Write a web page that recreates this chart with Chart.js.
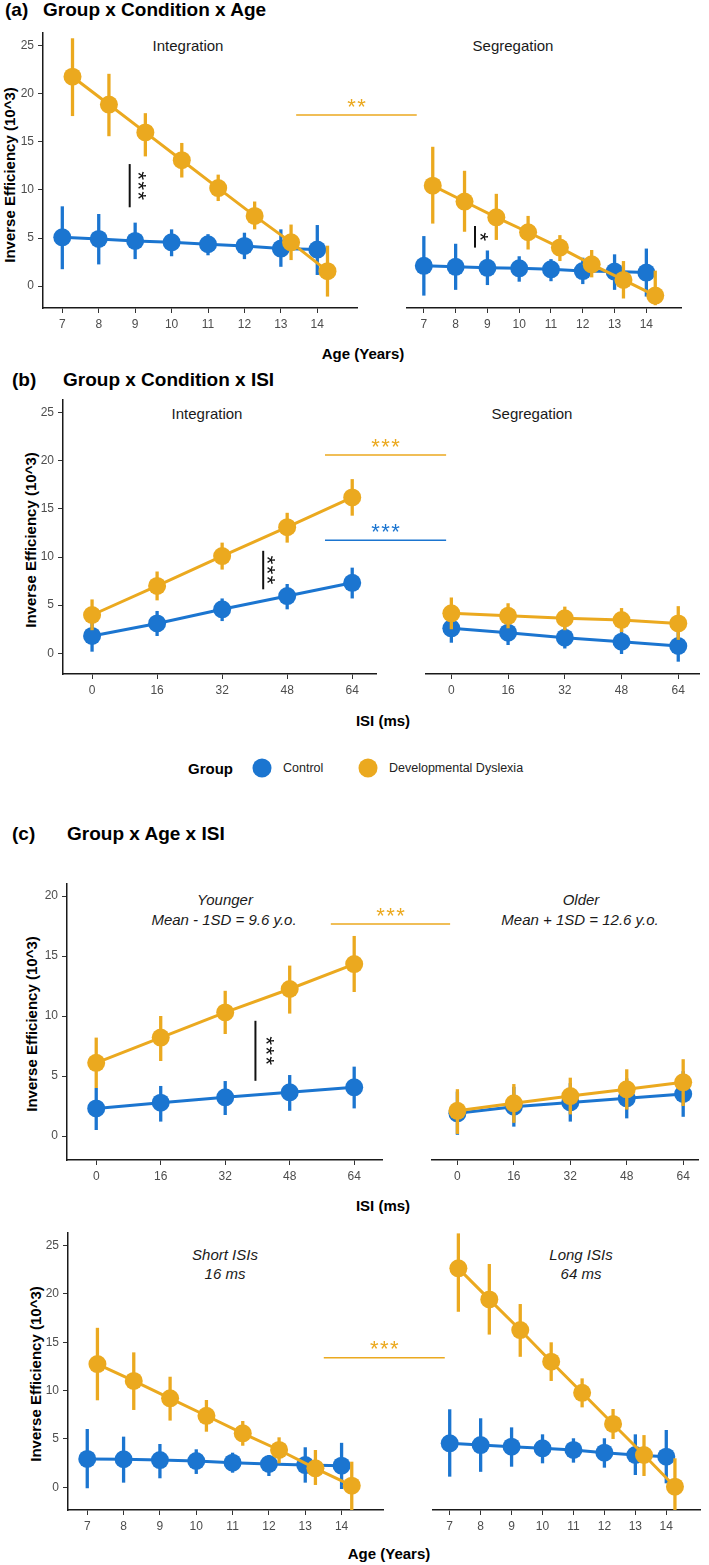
<!DOCTYPE html>
<html lang="en">
<head>
<meta charset="UTF-8">
<title>Inverse Efficiency by Group, Condition, Age and ISI</title>
<script src="https://cdn.jsdelivr.net/npm/chart.js"></script>
<style>
  body { margin: 0; background: #fff; font-family: "Liberation Sans", Arial, sans-serif; }
  #page { position: relative; width: 709px; height: 1565px; overflow: hidden; background: #fff; }
  #page canvas { position: absolute; left: 0; top: 0; }
  .txt { position: absolute; white-space: nowrap; transform: translate(-50%, -50%); color: #000; }
  .head { position: absolute; white-space: nowrap; font-weight: bold; font-size: 19px; transform: translateY(-50%); }
  .axt { font-weight: bold; font-size: 15px; }
  .yt { transform: translate(-50%, -50%) rotate(-90deg); }
  .strip { font-size: 15px; color: #1a1a1a; }
  .it { font-style: italic; }
  .key { position: absolute; width: 19px; height: 19px; border-radius: 50%; transform: translate(-50%, -50%); }
  .lab { position: absolute; white-space: nowrap; font-size: 12.5px; color: #222; transform: translateY(-50%); }
</style>
</head>
<body>
<div id="page">
  <div class="head" style="left:5px;top:10px">(a)</div>
  <div class="head" style="left:43px;top:10px">Group x Condition x Age</div>
  <div class="head" style="left:12px;top:380px">(b)</div>
  <div class="head" style="left:63px;top:380px">Group x Condition x ISI</div>
  <div class="head" style="left:12px;top:834px">(c)</div>
  <div class="head" style="left:67px;top:834px">Group x Age x ISI</div>

  <div class="txt strip" style="left:188px;top:45px">Integration</div>
  <div class="txt strip" style="left:513px;top:45px">Segregation</div>
  <div class="txt strip" style="left:207px;top:413px">Integration</div>
  <div class="txt strip" style="left:532px;top:413px">Segregation</div>
  <div class="txt strip it" style="left:225px;top:899px">Younger</div>
  <div class="txt strip it" style="left:224px;top:919px">Mean - 1SD = 9.6 y.o.</div>
  <div class="txt strip it" style="left:581px;top:899px">Older</div>
  <div class="txt strip it" style="left:580px;top:919px">Mean + 1SD = 12.6 y.o.</div>
  <div class="txt strip it" style="left:225px;top:1254px">Short ISIs</div>
  <div class="txt strip it" style="left:225px;top:1273px">16 ms</div>
  <div class="txt strip it" style="left:581px;top:1254px">Long ISIs</div>
  <div class="txt strip it" style="left:581px;top:1273px">64 ms</div>

  <div class="txt axt yt" style="left:9px;top:175px">Inverse Efficiency (10^3)</div>
  <div class="txt axt yt" style="left:30px;top:540px">Inverse Efficiency (10^3)</div>
  <div class="txt axt yt" style="left:31px;top:1024px">Inverse Efficiency (10^3)</div>
  <div class="txt axt yt" style="left:35px;top:1374px">Inverse Efficiency (10^3)</div>
  <div class="txt axt" style="left:363px;top:353px">Age (Years)</div>
  <div class="txt axt" style="left:383px;top:720px">ISI (ms)</div>
  <div class="txt axt" style="left:383px;top:1205px">ISI (ms)</div>
  <div class="txt axt" style="left:389px;top:1553px">Age (Years)</div>

  <div class="lab" style="left:188px;top:768px;font-weight:bold;font-size:15px;color:#000">Group</div>
  <div class="key" style="left:262px;top:768px;background:#1b75d0"></div>
  <div class="lab" style="left:283px;top:768px">Control</div>
  <div class="key" style="left:368px;top:768px;background:#eba91f"></div>
  <div class="lab" style="left:389px;top:768px">Developmental Dyslexia</div>
</div>

<script>
// x categories and ticks
const ages = [7, 8, 9, 10, 11, 12, 13, 14];
const isiMs = [0, 16, 32, 48, 64];
const effTicks = [0, 5, 10, 15, 20, 25];
const effTicksC = [0, 5, 10, 15, 20];

// (a) Group x Condition x Age
const aIntCtrl   = [5.07, 4.9, 4.7, 4.55, 4.35, 4.17, 3.9, 3.8];
const aIntCtrlLo = [1.75, 2.25, 2.8, 3.1, 3.2, 2.8, 2.0, 1.15];
const aIntCtrlHi = [8.3, 7.5, 6.6, 5.9, 5.4, 5.55, 5.9, 6.35];
const aIntDD     = [21.8, 18.9, 16.0, 13.1, 10.2, 7.3, 4.55, 1.55];
const aIntDDLo   = [17.7, 15.6, 13.5, 11.3, 8.85, 5.9, 2.7, -1.1];
const aIntDDHi   = [25.8, 22.1, 18.0, 14.9, 11.6, 8.8, 6.4, 4.2];
const aSegCtrl   = [2.1, 2.0, 1.9, 1.84, 1.74, 1.56, 1.5, 1.4];
const aSegCtrlLo = [-1.0, -0.4, 0.1, 0.45, 0.5, 0.2, -0.4, -1.1];
const aSegCtrlHi = [5.2, 4.4, 3.7, 3.1, 2.8, 2.95, 3.3, 3.9];
const aSegDD     = [10.45, 8.8, 7.15, 5.6, 4.0, 2.26, 0.63, -1.0];
const aSegDDLo   = [6.5, 5.65, 4.8, 3.8, 2.6, 0.9, -1.3, -2.0];
const aSegDDHi   = [14.5, 12.0, 9.6, 7.3, 5.3, 3.75, 2.6, 1.6];

// (b) Group x Condition x ISI
const bIntCtrl   = [1.8, 3.1, 4.57, 5.95, 7.33];
const bIntCtrlLo = [0.17, 1.8, 3.35, 4.57, 5.7];
const bIntCtrlHi = [3.3, 4.4, 5.7, 7.2, 8.9];
const bIntDD     = [3.98, 7.0, 10.1, 13.1, 16.2];
const bIntDDLo   = [2.4, 5.5, 8.7, 11.5, 14.3];
const bIntDDHi   = [5.6, 8.5, 11.5, 14.6, 18.1];
const bSegCtrl   = [2.6, 2.14, 1.62, 1.2, 0.76];
const bSegCtrlLo = [1.1, 0.86, 0.5, -0.07, -0.87];
const bSegCtrlHi = [4.1, 3.4, 2.7, 2.5, 2.4];
const bSegDD     = [4.15, 3.9, 3.63, 3.46, 3.1];
const bSegDDLo   = [2.5, 2.6, 2.4, 2.2, 1.4];
const bSegDDHi   = [5.8, 5.2, 4.85, 4.7, 4.9];

// (c) Group x Age x ISI, ISI slopes at younger / older age
const cYoungCtrl   = [2.3, 2.78, 3.22, 3.64, 4.06];
const cYoungCtrlLo = [0.5, 1.2, 1.75, 2.1, 2.3];
const cYoungCtrlHi = [4.0, 4.17, 4.58, 5.08, 5.78];
const cYoungDD     = [6.1, 8.2, 10.3, 12.25, 14.33];
const cYoungDDLo   = [4.0, 6.25, 8.5, 10.2, 12.0];
const cYoungDDHi   = [8.2, 10.0, 12.1, 14.2, 16.67];
const cOldCtrl     = [1.89, 2.44, 2.8, 3.14, 3.5];
const cOldCtrlLo   = [0.1, 0.78, 1.2, 1.47, 1.6];
const cOldCtrlHi   = [3.7, 4.1, 4.4, 4.8, 5.4];
const cOldDD       = [2.1, 2.72, 3.33, 3.89, 4.47];
const cOldDDLo     = [0.17, 1.1, 1.8, 2.2, 2.5];
const cOldDDHi     = [3.9, 4.33, 4.86, 5.56, 6.4];

// (c) age slopes at short / long ISIs
const cShortCtrl   = [2.93, 2.9, 2.82, 2.72, 2.55, 2.41, 2.3, 2.24];
const cShortCtrlLo = [-0.1, 0.48, 0.93, 1.38, 1.51, 1.17, 0.48, -0.18];
const cShortCtrlHi = [6.03, 5.24, 4.48, 3.93, 3.58, 3.34, 4.14, 4.6];
const cShortDD     = [12.75, 11.0, 9.2, 7.4, 5.58, 3.86, 1.96, 0.17];
const cShortDDLo   = [9.0, 8.0, 6.9, 5.75, 4.3, 2.48, 0.24, -2.66];
const cShortDDHi   = [16.5, 13.96, 11.44, 9.03, 6.86, 5.17, 3.86, 2.65];
const cLongCtrl    = [4.55, 4.37, 4.2, 4.03, 3.86, 3.58, 3.34, 3.17];
const cLongCtrlLo  = [1.1, 1.6, 2.13, 2.48, 2.55, 2.03, 1.27, 0.41];
const cLongCtrlHi  = [8.07, 7.14, 6.2, 5.48, 5.07, 5.07, 5.48, 5.93];
const cLongDD      = [22.65, 19.44, 16.27, 12.99, 9.78, 6.55, 3.34, 0.06];
const cLongDDLo    = [18.16, 15.8, 13.5, 11.0, 8.27, 5.0, 1.17, -2.9];
const cLongDDHi    = [26.27, 23.1, 18.96, 15.0, 11.27, 8.1, 5.4, 3.0];

const BLUE = '#1b75d0';
const GOLD = '#eba91f';
const INK = '#111';
const DODGE = 0.28;   // DD points sit a bit right of the age tick
const W = 709, H = 1565;
const YW = 40, XH = 30;
const FONT = '"Liberation Sans", Arial, sans-serif';

Chart.defaults.font.family = FONT;

function series(xs, mid, lo, hi, color, shift, order) {
  return {
    data: xs.map((x, i) => ({ x: x + shift, y: mid[i] })),
    errLo: lo,
    errHi: hi,
    borderColor: color,
    backgroundColor: color,
    pointBackgroundColor: color,
    pointBorderWidth: 0,
    pointRadius: 9,
    pointHoverRadius: 9,
    borderWidth: 3,
    showLine: true,
    order: order
  };
}

// vertical error bars, drawn just under their own dataset
const errorBars = {
  id: 'errorBars',
  beforeDatasetDraw(chart, args) {
    const ds = chart.data.datasets[args.index];
    if (!ds.errLo) return;
    const { ctx, chartArea: a, scales: { x, y } } = chart;
    ctx.save();
    ctx.beginPath();
    ctx.rect(a.left, a.top, a.right - a.left, a.bottom - a.top);
    ctx.clip();
    ctx.strokeStyle = ds.borderColor;
    ctx.lineWidth = 3.3;
    ds.data.forEach((p, i) => {
      const px = x.getPixelForValue(p.x);
      ctx.beginPath();
      ctx.moveTo(px, y.getPixelForValue(ds.errLo[i]));
      ctx.lineTo(px, y.getPixelForValue(ds.errHi[i]));
      ctx.stroke();
    });
    ctx.restore();
  }
};

function stars(ctx, label, color) {
  const fs = 22;
  ctx.fillStyle = color;
  ctx.font = fs + 'px ' + FONT;
  ctx.textAlign = 'center';
  ctx.textBaseline = 'alphabetic';
  const n = label.length;
  for (let k = 0; k < n; k++) {
    ctx.fillText('*', (k - (n - 1) / 2) * 10, 0.55 * fs);
  }
}

// significance marks: vertical black bar with rotated stars, or coloured line with stars above
function marks(items) {
  return {
    id: 'sig',
    afterDatasetsDraw(chart) {
      const { ctx, scales: { x, y } } = chart;
      items.forEach(it => {
        ctx.save();
        ctx.strokeStyle = it.color;
        if (it.at !== undefined) {
          const px = x.getPixelForValue(it.at);
          const p1 = y.getPixelForValue(it.from);
          const p2 = y.getPixelForValue(it.to);
          ctx.lineWidth = 2;
          ctx.beginPath();
          ctx.moveTo(px, p1);
          ctx.lineTo(px, p2);
          ctx.stroke();
          ctx.translate(px + it.dx, (p1 + p2) / 2);
          ctx.rotate(Math.PI / 2);
          stars(ctx, it.label, it.color);
        } else {
          const py = y.getPixelForValue(it.level);
          const p1 = x.getPixelForValue(it.from);
          const p2 = x.getPixelForValue(it.to);
          ctx.lineWidth = 1.5;
          ctx.beginPath();
          ctx.moveTo(p1, py);
          ctx.lineTo(p2, py);
          ctx.stroke();
          ctx.translate((p1 + p2) / 2, py - 13.5);
          stars(ctx, it.label, it.color);
        }
        ctx.restore();
      });
    }
  };
}

function axis(range, ticks, fit, show) {
  return {
    type: 'linear',
    display: show,
    min: range[0],
    max: range[1],
    afterBuildTicks: s => { s.ticks = ticks.map(v => ({ value: v })); },
    afterFit: fit,
    grid: { display: true, drawOnChartArea: false, drawTicks: true, tickLength: 5, color: '#333', lineWidth: 1 },
    border: { display: true, color: '#1a1a1a', width: 1.5 },
    ticks: { autoSkip: false, maxRotation: 0, padding: 4, color: '#4d4d4d', font: { size: 12 } }
  };
}

const page = document.getElementById('page');

function facet(r, xr, yr, xTicks, yTicks, showY, datasets, items) {
  const cv = document.createElement('canvas');
  cv.width = W;
  cv.height = H;
  page.appendChild(cv);
  new Chart(cv, {
    type: 'scatter',
    data: { datasets: datasets },
    options: {
      responsive: false,
      animation: false,
      devicePixelRatio: 1,
      events: [],
      layout: { padding: { left: showY ? r.l - YW : r.l, top: r.t, right: W - r.r, bottom: H - r.b - XH } },
      plugins: { legend: { display: false }, tooltip: { enabled: false } },
      scales: {
        x: axis(xr, xTicks, s => { s.height = XH; }, true),
        y: axis(yr, yTicks, s => { s.width = YW; }, showY)
      }
    },
    plugins: [errorBars, marks(items || [])]
  });
}

// (a)
facet({ l: 43, t: 33, r: 357, b: 308 }, [6.47, 15.09], [-2.29, 26.35], ages, effTicks, true, [
  series(ages, aIntCtrl, aIntCtrlLo, aIntCtrlHi, BLUE, 0, 1),
  series(ages, aIntDD, aIntDDLo, aIntDDHi, GOLD, DODGE, 0)
], [
  { at: 8.85, from: 8.2, to: 12.7, label: '***', color: INK, dx: 13 },
  { level: 17.8, from: 13.42, to: 16.73, label: '**', color: GOLD }
]);
facet({ l: 367, t: 33, r: 681, b: 308 }, [6.47, 15.09], [-2.29, 26.35], ages, effTicks, false, [
  series(ages, aSegCtrl, aSegCtrlLo, aSegCtrlHi, BLUE, 0, 1),
  series(ages, aSegDD, aSegDDLo, aSegDDHi, GOLD, DODGE, 0)
], [
  { at: 8.61, from: 4.0, to: 6.25, label: '*', color: INK, dx: 10 }
]);

// (b)
facet({ l: 63, t: 400, r: 376, b: 674 }, [-7.15, 69.85], [-2.15, 26.32], isiMs, effTicks, true, [
  series(isiMs, bIntCtrl, bIntCtrlLo, bIntCtrlHi, BLUE, 0, 1),
  series(isiMs, bIntDD, bIntDDLo, bIntDDHi, GOLD, 0, 0)
], [
  { at: 42.1, from: 6.65, to: 10.65, label: '***', color: INK, dx: 9 },
  { level: 20.6, from: 57.3, to: 87.1, label: '***', color: GOLD },
  { level: 11.74, from: 57.3, to: 87.1, label: '***', color: BLUE }
]);
facet({ l: 386, t: 400, r: 699, b: 674 }, [-7.15, 69.85], [-2.15, 26.32], isiMs, effTicks, false, [
  series(isiMs, bSegCtrl, bSegCtrlLo, bSegCtrlHi, BLUE, 0, 1),
  series(isiMs, bSegDD, bSegDDLo, bSegDDHi, GOLD, 0, 0)
]);

// (c) top: ISI at younger / older age
facet({ l: 67, t: 884, r: 382, b: 1160 }, [-7.25, 70.9], [-2, 21], isiMs, effTicksC, true, [
  series(isiMs, cYoungCtrl, cYoungCtrlLo, cYoungCtrlHi, BLUE, 0, 1),
  series(isiMs, cYoungDD, cYoungDDLo, cYoungDDHi, GOLD, 0, 0)
], [
  { at: 39.5, from: 4.6, to: 9.6, label: '***', color: INK, dx: 16 },
  { level: 17.67, from: 58.2, to: 87.8, label: '***', color: GOLD }
]);
facet({ l: 392, t: 884, r: 698, b: 1160 }, [-7.2, 68.2], [-2, 21], isiMs, effTicksC, false, [
  series(isiMs, cOldCtrl, cOldCtrlLo, cOldCtrlHi, BLUE, 0, 1),
  series(isiMs, cOldDD, cOldDDLo, cOldDDHi, GOLD, 0, 0)
]);

// (c) bottom: age at short / long ISIs
facet({ l: 68, t: 1233, r: 383, b: 1510 }, [6.47, 15.14], [-2.35, 26.31], ages, effTicks, true, [
  series(ages, cShortCtrl, cShortCtrlLo, cShortCtrlHi, BLUE, 0, 1),
  series(ages, cShortDD, cShortDDLo, cShortDDHi, GOLD, DODGE, 0)
], [
  { level: 13.41, from: 13.51, to: 16.84, label: '***', color: GOLD }
]);
facet({ l: 393, t: 1233, r: 708, b: 1510 }, [6.46, 15.09], [-2.35, 26.31], ages, effTicks, false, [
  series(ages, cLongCtrl, cLongCtrlLo, cLongCtrlHi, BLUE, 0, 1),
  series(ages, cLongDD, cLongDDLo, cLongDDHi, GOLD, DODGE, 0)
]);
</script>
</body>
</html>
